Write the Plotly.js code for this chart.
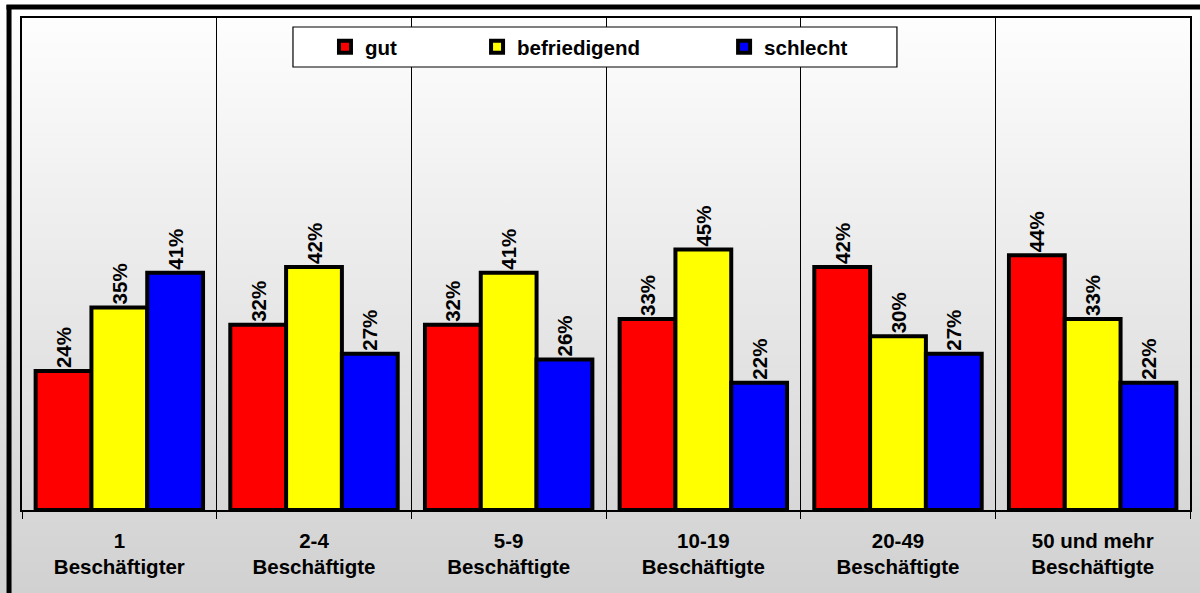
<!DOCTYPE html>
<html>
<head>
<meta charset="utf-8">
<script src="https://cdn.plot.ly/plotly-3.0.1.min.js"></script>
<style>
  html, body { margin: 0; padding: 0; }
  #chart { width: 1200px; height: 593px; background: linear-gradient(to bottom, #ffffff 0%, #d1d1d1 100%); }
</style>
</head>
<body>
<div id="chart"></div>
<script>
const categories = ['1<br>Beschäftigter', '2-4<br>Beschäftigte', '5-9<br>Beschäftigte', '10-19<br>Beschäftigte', '20-49<br>Beschäftigte', '50 und mehr<br>Beschäftigte'];
const seriesNames = ['gut', 'befriedigend', 'schlecht'];
const gut = [24, 32, 32, 33, 42, 44];
const befriedigend = [35, 42, 41, 45, 30, 33];
const schlecht = [41, 27, 26, 22, 27, 22];
const colors = ['#ff0000', '#ffff00', '#0000ff'];

const FONT = 'Arial, "Liberation Sans", sans-serif';
const values = [gut, befriedigend, schlecht];
const legendIds = ['legend', 'legend2', 'legend3'];

const traces = values.map((v, i) => ({
  type: 'bar',
  name: seriesNames[i],
  x: categories,
  y: v,
  legend: legendIds[i],
  marker: { color: colors[i], line: { color: '#000000', width: 4 } },
  texttemplate: '%{y}%',
  textposition: 'outside',
  textangle: -90,
  constraintext: 'none',
  cliponaxis: false,
  textfont: { family: FONT, size: 20.5, weight: 'bold', color: '#000000' },
  hoverinfo: 'x+y+name'
}));

function legendAt(x) {
  return {
    x: x, y: 0.941, xanchor: 'left', yanchor: 'middle',
    orientation: 'h', bgcolor: 'rgba(0,0,0,0)', borderwidth: 0,
    font: { family: FONT, size: 20.5, weight: 'bold', color: '#000000' }
  };
}

const layout = {
  width: 1200, height: 593,
  margin: { l: 22, r: 10, t: 18, b: 83, pad: 0 },
  paper_bgcolor: 'rgba(0,0,0,0)',
  plot_bgcolor: 'rgba(0,0,0,0)',
  barmode: 'group',
  bargap: 0.14,
  bargroupgap: 0,
  showlegend: true,
  legend: legendAt(0.2594),
  legend2: legendAt(0.3896),
  legend3: legendAt(0.6011),
  xaxis: {
    type: 'category',
    tickson: 'boundaries',
    ticks: 'outside', ticklen: 7, tickcolor: '#000000', tickwidth: 1,
    showgrid: true, gridcolor: '#000000', gridwidth: 1,
    showline: true, linecolor: '#000000', linewidth: 2, mirror: true,
    ticklabelstandoff: 11,
    tickfont: { family: FONT, size: 20.5, weight: 'bold', color: '#000000' }
  },
  yaxis: {
    range: [0, 85],
    showticklabels: false, ticks: '', showgrid: false, zeroline: false,
    showline: true, linecolor: '#000000', linewidth: 1.5, mirror: true
  },
  shapes: [
    { type: 'rect', xref: 'paper', yref: 'paper', x0: 0.2320, x1: 0.7491, y0: 0.9004, y1: 0.9817,
      fillcolor: '#ffffff', line: { color: '#000000', width: 1.2 }, layer: 'above' },
    { type: 'line', xref: 'paper', yref: 'paper', x0: -0.0111, x1: -0.0111, y0: 1.0264, y1: -0.2, line: { color: '#000000', width: 5 } },
    { type: 'line', xref: 'paper', yref: 'paper', x0: -0.0133, x1: 1.02, y0: 1.0224, y1: 1.0224, line: { color: '#000000', width: 5 } }
  ]
};

Plotly.newPlot('chart', traces, layout, { displayModeBar: false });
</script>
</body>
</html>
